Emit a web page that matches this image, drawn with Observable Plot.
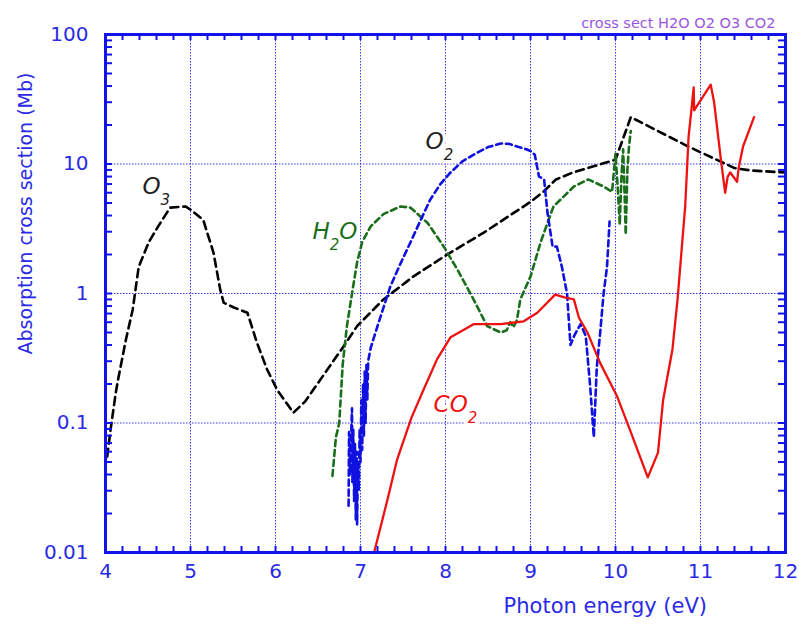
<!DOCTYPE html>
<html><head><meta charset="utf-8">
<script src="https://cdn.jsdelivr.net/npm/d3@7"></script>
<script src="https://cdn.jsdelivr.net/npm/@observablehq/plot@0.6"></script>
<style>html,body{margin:0;padding:0;background:#fff;}</style>
</head><body><div id="chart"></div>
<script>
// ---- data ----
const xTicks = [4, 5, 6, 7, 8, 9, 10, 11, 12];
const yTicks = [0.01, 0.1, 1, 10, 100];

const o3X = [4.02,4.06,4.12,4.15,4.24,4.32,4.39,4.51,4.62,4.76,4.94,5.0,5.15,5.27,5.35,5.39,5.51,5.67,5.78,5.9,6.02,6.21,6.35,6.8,6.96,7.27,7.62,8.02,8.45,9.0,9.15,9.3,9.5,10.0,10.18,10.85,11.4,11.6,12.0];
const o3Y = [0.055,0.089,0.17,0.22,0.44,0.75,1.6,2.5,3.3,4.6,4.7,4.45,3.7,2.07,1.07,0.85,0.78,0.71,0.42,0.26,0.18,0.12,0.147,0.39,0.56,0.9,1.35,2.0,2.95,5.1,6.1,7.6,8.6,10.8,23,13.7,9.3,8.9,8.6];

const o2X = [6.86,6.865,6.875,6.9,6.905,6.915,6.925,6.935,6.945,6.955,6.96,6.97,6.98,6.99,7.0,7.01,7.02,7.03,7.04,7.05,7.06,7.07,7.08,7.09,7.12,7.2,7.35,7.47,7.59,7.7,7.82,7.94,8.06,8.2,8.38,8.5,8.65,8.75,8.85,8.95,9.0,9.05,9.1,9.16,9.2,9.26,9.31,9.37,9.43,9.47,9.52,9.59,9.65,9.7,9.745,9.78,9.82,9.86,9.9,9.93];
const o2Y = [0.023,0.085,0.04,0.13,0.035,0.09,0.025,0.07,0.018,0.06,0.0165,0.05,0.03,0.09,0.05,0.15,0.062,0.2,0.08,0.25,0.1,0.28,0.15,0.3,0.38,0.56,1.13,1.7,2.5,3.6,5.3,7.0,8.6,10.5,12.3,13.5,14.4,14.3,13.6,13.0,12.6,11.8,8.0,7.6,4.2,2.3,2.3,1.6,1.0,0.4,0.48,0.58,0.47,0.2,0.078,0.27,0.5,1.0,1.6,3.6];

const h2oX = [6.67,6.71,6.75,6.79,6.84,6.9,6.96,7.02,7.12,7.27,7.47,7.59,7.79,7.98,8.14,8.33,8.49,8.65,8.72,8.76,8.8,8.84,8.88,9.0,9.12,9.27,9.39,9.51,9.68,9.86,9.96,10.0,10.03,10.05,10.07,10.09,10.11,10.12,10.14,10.16,10.18];
const h2oY = [0.039,0.077,0.1,0.28,0.56,1.0,1.74,2.5,3.3,4.1,4.7,4.6,3.5,2.3,1.53,0.9,0.56,0.5,0.52,0.6,0.55,0.62,0.9,1.35,2.5,4.7,5.6,6.7,7.6,6.7,6.1,12,6,3.4,8,13,5,2.85,9,14,18];

const co2X = [7.16,7.32,7.43,7.47,7.6,7.74,7.9,8.06,8.33,8.65,8.92,9.08,9.29,9.41,9.51,9.57,9.67,9.82,10.02,10.18,10.38,10.5,10.56,10.67,10.73,10.82,10.86,10.89,10.92,10.925,11.12,11.16,11.24,11.29,11.32,11.35,11.43,11.45,11.5,11.63];
const co2Y = [0.01,0.026,0.052,0.062,0.11,0.18,0.31,0.46,0.58,0.58,0.61,0.71,0.98,0.93,0.9,0.65,0.5,0.29,0.16,0.085,0.038,0.059,0.15,0.37,0.9,4.7,16.3,25,39,26,41,30,10.8,6.0,8,8.6,7.3,9.4,13.6,23];

const labelText = ["O_3", "O_2", "H_2O", "CO_2"];
const labelX = [4.435, 7.765, 6.435, 7.86];
const labelY = [6.7, 14.9, 3.0, 0.139];

const titleText = "cross sect H2O O2 O3 CO2";
const xLabel = "Photon energy (eV)";
const yLabel = "Absorption cross section (Mb)";

// ---- styles / layout ----
const W = 799, H = 625, ML = 105, MR = 14, MT = 34, MB = 73;
const innerW = W - ML - MR, innerH = H - MT - MB;
const axisBlue = "#1212ea";
const tickBlue = "#2a2ae6";
const gridBlue = "#3a3af0";
const cO3 = "#000000", cO2 = "#1010e0", cH2O = "#1b6e1b", cCO2 = "#ee1111";
const labelColors = ["#222222", "#222222", cH2O, cCO2];
const tkX = 6, tkY = 7;

const minorX = xTicks.slice(0, -1).flatMap(t => [0, 0.2, 0.4, 0.6, 0.8].map(f => +(t + f).toFixed(1))).concat([12]);
const minorY = yTicks.slice(0, -1).flatMap(d => [1,2,3,4,5,6,7,8,9].map(k => +(d * k).toPrecision(3))).concat([100]);

const series = (xs, ys) => xs.map((x, i) => ({x, y: ys[i]}));

const labelMarks = labelText.map((t, i) => Plot.text([t], {
  x: () => labelX[i], y: () => labelY[i], text: d => d,
  textAnchor: "start", fill: labelColors[i], fontSize: 23, fontStyle: "italic",
  stroke: "white", strokeWidth: 7
}));

const tickStyle = {stroke: axisBlue, strokeWidth: 2};

const chart = Plot.plot({
  width: W, height: H,
  marginLeft: ML, marginRight: MR, marginTop: MT, marginBottom: MB,
  x: {domain: [4, 12]},
  y: {type: "log", domain: [0.01, 100]},
  style: {fontFamily: "DejaVu Sans", background: "white", color: tickBlue},
  marks: [
    Plot.gridX(xTicks, {stroke: gridBlue, strokeOpacity: 1, strokeWidth: 1, strokeDasharray: "1.5,1.5"}),
    Plot.gridY(yTicks, {stroke: gridBlue, strokeOpacity: 1, strokeWidth: 1, strokeDasharray: "1.5,1.5"}),
    ...labelMarks,
    Plot.line(series(o3X, o3Y), {x: "x", y: "y", stroke: cO3, strokeWidth: 2.6, strokeDasharray: "8,5"}),
    Plot.line(series(h2oX, h2oY), {x: "x", y: "y", stroke: cH2O, strokeWidth: 2.6, strokeDasharray: "6,4"}),
    Plot.line(series(o2X, o2Y), {x: "x", y: "y", stroke: cO2, strokeWidth: 2.6, strokeDasharray: "6,4"}),
    Plot.line(series(co2X, co2Y), {x: "x", y: "y", stroke: cCO2, strokeWidth: 2.3}),
    // inward minor ticks on all four sides
    Plot.ruleX(minorX, {x: d => d, insetTop: innerH - tkX, ...tickStyle}),
    Plot.ruleX(minorX, {x: d => d, insetBottom: innerH - tkX, ...tickStyle}),
    Plot.ruleY(minorY, {y: d => d, insetRight: innerW - tkY, ...tickStyle}),
    Plot.ruleY(minorY, {y: d => d, insetLeft: innerW - tkY, ...tickStyle}),
    Plot.axisX(xTicks, {anchor: "bottom", tickSize: 0, tickPadding: 11, fontSize: 20, fill: tickBlue, label: null}),
    Plot.axisY(yTicks, {anchor: "left", tickSize: 0, tickPadding: 17, fontSize: 20, fill: tickBlue, label: null, tickFormat: d => String(d)}),
    Plot.frame({stroke: axisBlue, strokeWidth: 3}),
    Plot.text([xLabel], {x: () => 9.88, frameAnchor: "bottom", dy: 60, text: d => d, fontSize: 21, fill: tickBlue}),
    Plot.text([yLabel], {frameAnchor: "left", textAnchor: "middle", rotate: -90, dx: -80, dy: -80, text: d => d, fontSize: 19, fill: tickBlue}),
    Plot.text([titleText], {frameAnchor: "top-right", dx: -10, dy: -17, textAnchor: "end", text: d => d, fontSize: 14.5, fill: "#9a55e2"})
  ]
});

// subscripts: "X_n" -> tspan with lowered, smaller digit
const NS = "http://www.w3.org/2000/svg";
chart.querySelectorAll("text").forEach(t => {
  const s = t.textContent;
  if (!s.includes("_")) return;
  while (t.firstChild) t.removeChild(t.firstChild);
  const parts = s.split(/_(\d)/);
  let shifted = false;
  parts.forEach((p, k) => {
    if (!p) return;
    const ts = document.createElementNS(NS, "tspan");
    ts.textContent = p;
    if (k % 2 === 1) { ts.setAttribute("dy", "11"); ts.setAttribute("font-size", "15"); shifted = true; }
    else if (shifted) { ts.setAttribute("dy", "-11"); shifted = false; }
    t.appendChild(ts);
  });
});

document.getElementById("chart").appendChild(chart);
</script></body></html>
